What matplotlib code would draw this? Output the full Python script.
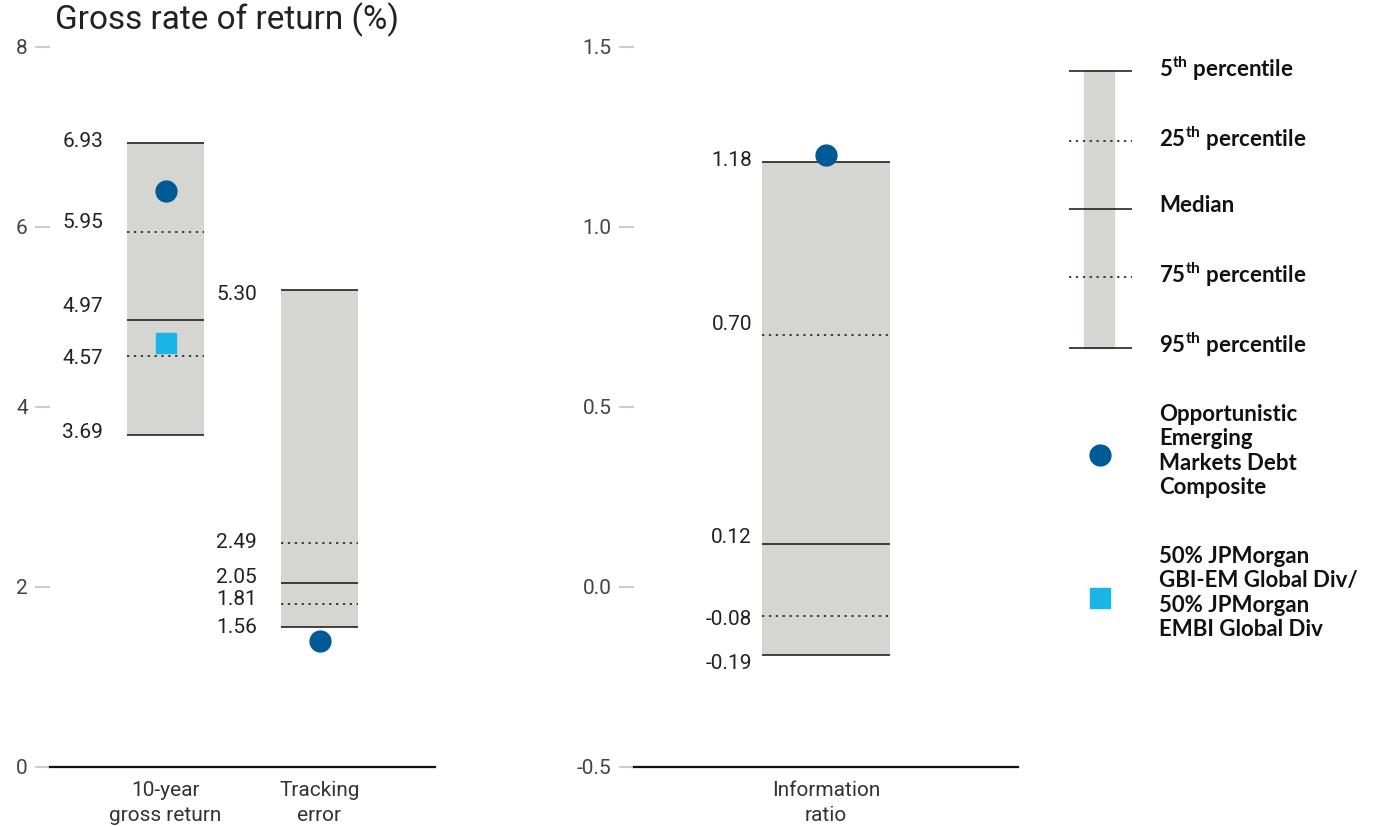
import matplotlib
matplotlib.use("Agg")
import matplotlib.pyplot as plt
from matplotlib import font_manager
from matplotlib.patches import Rectangle

# data
categories_left = ["10-year\ngross return", "Tracking\nerror"]
p5_left = [6.93, 5.30]
p25_left = [5.95, 2.49]
median_left = [4.97, 2.05]
p75_left = [4.57, 1.81]
p95_left = [3.69, 1.56]
composite_left = [6.40, 1.40]
benchmark_return = 4.71

categories_right = ["Information\nratio"]
p5_right = [1.18]
p25_right = [0.70]
median_right = [0.12]
p75_right = [-0.08]
p95_right = [-0.19]
composite_right = [1.20]

left_ticks = [0, 2, 4, 6, 8]
right_ticks = [-0.5, 0.0, 0.5, 1.0, 1.5]

# label nudges in pixels (keeps the value labels from colliding), per bar
label_nudge_left = [[-2, -9, -13, 3, -2], [5, 0, -5, -5, 1]]
label_nudge_right = [[-2, -11, -6, 4, 8]]

BAR_GRAY = "#d5d6d2"
DARK_BLUE = "#005a96"
LIGHT_BLUE = "#1ab4e6"
TEXT = "#222222"


def pick_font(names):
    for name in names:
        try:
            font_manager.findfont(font_manager.FontProperties(family=name), fallback_to_default=False)
            return name
        except ValueError:
            continue
    return "DejaVu Sans"


NUM_FONT = pick_font(["Liberation Sans Narrow", "Roboto"])
NUM_SIZE = 15 if NUM_FONT == "Roboto" else 16

plt.rcParams["font.family"] = ["Roboto", "DejaVu Sans"]
plt.rcParams["mathtext.fontset"] = "custom"
plt.rcParams["mathtext.bf"] = "Lato:bold"
plt.rcParams["mathtext.rm"] = "Lato"

W, H = 1376, 827
fig = plt.figure(figsize=(W / 100, H / 100), dpi=100)


def px_axes(x0, x1, y_top, y_bottom):
    return fig.add_axes([x0 / W, 1 - y_bottom / H, (x1 - x0) / W, (y_bottom - y_top) / H])


def style_axes(ax, ticks, fmt, categories, positions):
    for side in ["top", "right", "left"]:
        ax.spines[side].set_visible(False)
    ax.spines["bottom"].set_linewidth(1.6)
    ax.spines["bottom"].set_color("#111111")
    ax.set_yticks(ticks)
    ax.set_yticklabels([fmt(t) for t in ticks], fontfamily=NUM_FONT, fontsize=NUM_SIZE, color="#444444")
    ax.tick_params(axis="y", length=11, width=1.5, color="#cccccc", pad=5)
    ax.set_xticks(positions)
    ax.set_xticklabels(categories, fontfamily=NUM_FONT, fontsize=NUM_SIZE, color="#333333", linespacing=1.4)
    ax.tick_params(axis="x", length=0, pad=10)
    ax.patch.set_alpha(0)


def draw_box(ax, x, p5, p25, med, p75, p95, nudges, label_gap):
    ax.bar(x, p5 - p95, bottom=p95, width=1, color=BAR_GRAY, zorder=1)
    for v, ls in [(p5, "-"), (p25, (0, (1.5, 3))), (med, "-"), (p75, (0, (1.5, 3))), (p95, "-")]:
        ax.hlines(v, x - 0.5, x + 0.5, colors="#111111", linestyles=ls, linewidth=1.1, zorder=2)
    for v, dy in zip([p5, p25, med, p75, p95], nudges):
        ax.annotate(f"{v:.2f}", xy=(x - 0.5, v), xytext=(-label_gap, -dy),
                    textcoords="offset pixels", ha="right", va="center",
                    fontfamily=NUM_FONT, fontsize=NUM_SIZE, color=TEXT)


# left panel: returns and tracking error
ax1 = px_axes(50, 435, 47, 767)
ax1.set_xlim(-1.5, 3.5)
ax1.set_ylim(0, 8)
pos_left = [0, 2]
for i, x in enumerate(pos_left):
    draw_box(ax1, x, p5_left[i], p25_left[i], median_left[i], p75_left[i], p95_left[i],
             label_nudge_left[i], 24)
ax1.plot(pos_left, composite_left, "o", color=DARK_BLUE, markersize=15, zorder=3, linestyle="none")
ax1.plot(pos_left[0], benchmark_return, "s", color=LIGHT_BLUE, markersize=15, zorder=3)
style_axes(ax1, left_ticks, lambda t: f"{t:d}", categories_left, pos_left)

# right panel: information ratio
ax2 = px_axes(634, 1018, 47, 767)
ax2.set_xlim(-1.5, 1.5)
ax2.set_ylim(-0.5, 1.5)
pos_right = [0]
draw_box(ax2, 0, p5_right[0], p25_right[0], median_right[0], p75_right[0], p95_right[0],
         label_nudge_right[0], 10)
ax2.plot(pos_right, composite_right, "o", color=DARK_BLUE, markersize=15, zorder=3)
style_axes(ax2, right_ticks, lambda t: f"{t:.1f}", categories_right, pos_right)

for ax in (ax1, ax2):
    for artist in ax.lines:
        artist.set_clip_on(False)

fig.text(55 / W, 1 - 20 / H, "Gross rate of return (%)", fontsize=24,
         color=TEXT, va="center", ha="left")

# legend panel, in pixel coordinates
leg = px_axes(1040, 1376, 0, 827)
leg.set_xlim(1040, 1376)
leg.set_ylim(827, 0)
leg.axis("off")
leg.add_patch(Rectangle((1084, 71), 30, 277, color=BAR_GRAY, zorder=1))
legend_rows = [
    (69, "-", r"5$^{\mathbf{th}}$ percentile", 71),
    (139, (0, (1.5, 3)), r"25$^{\mathbf{th}}$ percentile", 141),
    (205, "-", "Median", 209),
    (275, (0, (1.5, 3)), r"75$^{\mathbf{th}}$ percentile", 277),
    (345, "-", r"95$^{\mathbf{th}}$ percentile", 348),
]
LEG_FONT = dict(fontsize=16, fontweight="bold", fontfamily="Lato", color="#111111",
                va="center", ha="left")
for ty, ls, label, ly in legend_rows:
    leg.hlines(ly, 1069, 1132, colors="#111111", linestyles=ls, linewidth=1.1, zorder=2)
    leg.text(1159, ty, label, **LEG_FONT)

leg.plot(1100, 455, "o", color=DARK_BLUE, markersize=15)
leg.text(1159, 451, "Opportunistic\nEmerging\nMarkets Debt\nComposite", linespacing=1.2, **LEG_FONT)
leg.plot(1100, 598, "s", color=LIGHT_BLUE, markersize=15)
leg.text(1159, 593, "50% JPMorgan\nGBI-EM Global Div/\n50% JPMorgan\nEMBI Global Div", linespacing=1.2, **LEG_FONT)

fig.savefig("out.png", dpi=100)
